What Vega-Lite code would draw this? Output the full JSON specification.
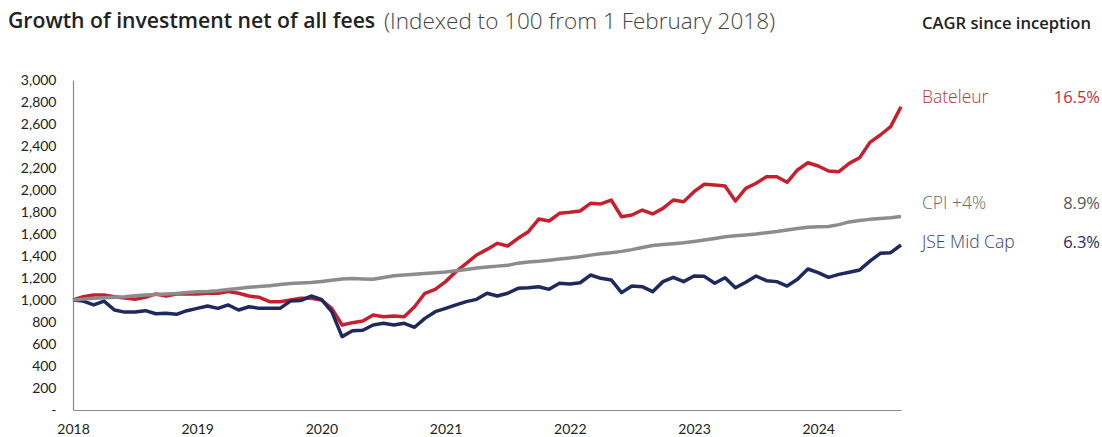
{
  "$schema": "https://vega.github.io/schema/vega-lite/v6.json",
  "width": 828,
  "height": 330,
  "autosize": "none",
  "padding": {"left": 73, "top": 80, "right": 201, "bottom": 27},
  "background": "white",
  "config": {"view": {"stroke": null}, "axisY": {"labelOverlap": false}},
  "datasets": {"series": [
    {"m":0,"bateleur":1000,"jse":1000,"cpi":1000},
    {"m":1,"bateleur":1030,"jse":990,"cpi":1008},
    {"m":2,"bateleur":1045,"jse":955,"cpi":1015},
    {"m":3,"bateleur":1045,"jse":990,"cpi":1020},
    {"m":4,"bateleur":1030,"jse":909,"cpi":1025},
    {"m":5,"bateleur":1018,"jse":890,"cpi":1030},
    {"m":6,"bateleur":1006,"jse":890,"cpi":1038},
    {"m":7,"bateleur":1024,"jse":903,"cpi":1045},
    {"m":8,"bateleur":1055,"jse":875,"cpi":1050},
    {"m":9,"bateleur":1036,"jse":880,"cpi":1055},
    {"m":10,"bateleur":1055,"jse":870,"cpi":1060},
    {"m":11,"bateleur":1055,"jse":903,"cpi":1068},
    {"m":12,"bateleur":1055,"jse":924,"cpi":1075},
    {"m":13,"bateleur":1061,"jse":945,"cpi":1078},
    {"m":14,"bateleur":1061,"jse":924,"cpi":1085},
    {"m":15,"bateleur":1076,"jse":955,"cpi":1095},
    {"m":16,"bateleur":1061,"jse":909,"cpi":1105},
    {"m":17,"bateleur":1036,"jse":939,"cpi":1115},
    {"m":18,"bateleur":1024,"jse":924,"cpi":1122},
    {"m":19,"bateleur":985,"jse":924,"cpi":1130},
    {"m":20,"bateleur":985,"jse":924,"cpi":1140},
    {"m":21,"bateleur":1000,"jse":990,"cpi":1150},
    {"m":22,"bateleur":1015,"jse":995,"cpi":1155},
    {"m":23,"bateleur":1015,"jse":1036,"cpi":1160},
    {"m":24,"bateleur":1000,"jse":1006,"cpi":1168},
    {"m":25,"bateleur":924,"jse":894,"cpi":1180},
    {"m":26,"bateleur":773,"jse":667,"cpi":1190},
    {"m":27,"bateleur":794,"jse":721,"cpi":1195},
    {"m":28,"bateleur":809,"jse":725,"cpi":1192},
    {"m":29,"bateleur":864,"jse":773,"cpi":1188},
    {"m":30,"bateleur":848,"jse":788,"cpi":1205},
    {"m":31,"bateleur":855,"jse":773,"cpi":1220},
    {"m":32,"bateleur":848,"jse":788,"cpi":1228},
    {"m":33,"bateleur":939,"jse":752,"cpi":1235},
    {"m":34,"bateleur":1061,"jse":833,"cpi":1242},
    {"m":35,"bateleur":1097,"jse":894,"cpi":1248},
    {"m":36,"bateleur":1167,"jse":924,"cpi":1255},
    {"m":37,"bateleur":1258,"jse":955,"cpi":1265},
    {"m":38,"bateleur":1333,"jse":985,"cpi":1278},
    {"m":39,"bateleur":1409,"jse":1006,"cpi":1290},
    {"m":40,"bateleur":1460,"jse":1061,"cpi":1300},
    {"m":41,"bateleur":1515,"jse":1036,"cpi":1308},
    {"m":42,"bateleur":1491,"jse":1061,"cpi":1315},
    {"m":43,"bateleur":1561,"jse":1106,"cpi":1335},
    {"m":44,"bateleur":1621,"jse":1112,"cpi":1345},
    {"m":45,"bateleur":1736,"jse":1121,"cpi":1352},
    {"m":46,"bateleur":1718,"jse":1097,"cpi":1362},
    {"m":47,"bateleur":1788,"jse":1152,"cpi":1372},
    {"m":48,"bateleur":1797,"jse":1145,"cpi":1382},
    {"m":49,"bateleur":1809,"jse":1157,"cpi":1394},
    {"m":50,"bateleur":1879,"jse":1227,"cpi":1408},
    {"m":51,"bateleur":1873,"jse":1197,"cpi":1420},
    {"m":52,"bateleur":1909,"jse":1182,"cpi":1430},
    {"m":53,"bateleur":1757,"jse":1067,"cpi":1442},
    {"m":54,"bateleur":1773,"jse":1127,"cpi":1458},
    {"m":55,"bateleur":1818,"jse":1121,"cpi":1478},
    {"m":56,"bateleur":1782,"jse":1076,"cpi":1495},
    {"m":57,"bateleur":1833,"jse":1167,"cpi":1505},
    {"m":58,"bateleur":1909,"jse":1206,"cpi":1512},
    {"m":59,"bateleur":1894,"jse":1167,"cpi":1520},
    {"m":60,"bateleur":1985,"jse":1218,"cpi":1532},
    {"m":61,"bateleur":2052,"jse":1215,"cpi":1545},
    {"m":62,"bateleur":2045,"jse":1152,"cpi":1560},
    {"m":63,"bateleur":2036,"jse":1203,"cpi":1575},
    {"m":64,"bateleur":1900,"jse":1112,"cpi":1585},
    {"m":65,"bateleur":2015,"jse":1161,"cpi":1592},
    {"m":66,"bateleur":2061,"jse":1218,"cpi":1600},
    {"m":67,"bateleur":2121,"jse":1176,"cpi":1612},
    {"m":68,"bateleur":2121,"jse":1167,"cpi":1622},
    {"m":69,"bateleur":2070,"jse":1127,"cpi":1636},
    {"m":70,"bateleur":2182,"jse":1188,"cpi":1650},
    {"m":71,"bateleur":2248,"jse":1282,"cpi":1662},
    {"m":72,"bateleur":2218,"jse":1248,"cpi":1665},
    {"m":73,"bateleur":2173,"jse":1206,"cpi":1668},
    {"m":74,"bateleur":2167,"jse":1233,"cpi":1685},
    {"m":75,"bateleur":2242,"jse":1252,"cpi":1710},
    {"m":76,"bateleur":2294,"jse":1273,"cpi":1722},
    {"m":77,"bateleur":2433,"jse":1354,"cpi":1733},
    {"m":78,"bateleur":2500,"jse":1424,"cpi":1740},
    {"m":79,"bateleur":2576,"jse":1430,"cpi":1748},
    {"m":80,"bateleur":2757,"jse":1500,"cpi":1760}
  ]},
  "layer": [
    {
      "data": {"name": "series"},
      "encoding": {
        "x": {
          "field": "m", "type": "quantitative",
          "scale": {"domain": [0, 80], "nice": false, "zero": false},
          "axis": {
            "title": null, "values": [0, 12, 24, 36, 48, 60, 72],
            "labelExpr": "toString(2018 + datum.value / 12)",
            "ticks": false, "grid": false, "domainColor": "#8a8a8a", "domainWidth": 1.2,
            "labelFont": "Lato", "labelFontSize": 14, "labelColor": "#222222", "labelPadding": 12,
            "labelFlush": false, "labelOverlap": false
          }
        }
      },
      "layer": [
        {
          "mark": {"type": "line", "color": "#c6202e", "strokeWidth": 3.5, "strokeJoin": "round"},
          "encoding": {"y": {"field": "bateleur", "type": "quantitative",
            "scale": {"domain": [0, 3000], "nice": false},
            "axis": {"title": null, "values": [0,200,400,600,800,1000,1200,1400,1600,1800,2000,2200,2400,2600,2800,3000],
              "labelExpr": "datum.value == 0 ? '-' : format(datum.value, ',')",
              "ticks": false, "grid": false, "domainColor": "#8a8a8a", "domainWidth": 1.2,
              "labelFont": "Lato", "labelFontSize": 14, "labelColor": "#222222", "labelPadding": 17,
              "labelOverlap": false, "labelFlush": false, "labelBound": false}}}
        },
        {
          "mark": {"type": "line", "color": "#1e2a5e", "strokeWidth": 3.5, "strokeJoin": "round"},
          "encoding": {"y": {"field": "jse", "type": "quantitative",
            "axis": {"title": null, "values": [0,200,400,600,800,1000,1200,1400,1600,1800,2000,2200,2400,2600,2800,3000],
              "labelExpr": "datum.value == 0 ? '-' : format(datum.value, ',')",
              "ticks": false, "grid": false, "domainColor": "#8a8a8a", "domainWidth": 1.2,
              "labelFont": "Lato", "labelFontSize": 14, "labelColor": "#222222", "labelPadding": 17,
              "labelOverlap": false, "labelFlush": false, "labelBound": false}}}
        },
        {
          "mark": {"type": "line", "color": "#8c8c8c", "strokeWidth": 3.5, "strokeJoin": "round"},
          "encoding": {"y": {"field": "cpi", "type": "quantitative",
            "axis": {"title": null, "values": [0,200,400,600,800,1000,1200,1400,1600,1800,2000,2200,2400,2600,2800,3000],
              "labelExpr": "datum.value == 0 ? '-' : format(datum.value, ',')",
              "ticks": false, "grid": false, "domainColor": "#8a8a8a", "domainWidth": 1.2,
              "labelFont": "Lato", "labelFontSize": 14, "labelColor": "#222222", "labelPadding": 17,
              "labelOverlap": false, "labelFlush": false, "labelBound": false}}}
        }
      ]
    },
    {
      "data": {"values": [{"t": "Growth of investment net of all fees"}]},
      "mark": {"type": "text", "align": "left", "baseline": "middle", "font": "Open Sans", "fontSize": 21.2, "fontWeight": 600, "color": "#222222"},
      "encoding": {"text": {"field": "t"}, "x": {"value": -65}, "y": {"value": -58}}
    },
    {
      "data": {"values": [{"t": "(Indexed to 100 from 1 February 2018)"}]},
      "mark": {"type": "text", "align": "left", "baseline": "middle", "font": "Open Sans", "fontSize": 22.5, "fontWeight": 300, "color": "#444444"},
      "encoding": {"text": {"field": "t"}, "x": {"value": 311}, "y": {"value": -58}}
    },
    {
      "data": {"values": [{"t": "CAGR since inception"}]},
      "mark": {"type": "text", "align": "left", "baseline": "middle", "font": "Open Sans", "fontSize": 16.6, "fontWeight": 600, "color": "#222222"},
      "encoding": {"text": {"field": "t"}, "x": {"value": 849}, "y": {"value": -56}}
    },
    {
      "data": {"values": [{"name": "Bateleur", "cagr": "16.5%"}]},
      "layer": [
        {"mark": {"type": "text", "align": "left", "baseline": "middle", "font": "Open Sans", "fontSize": 17.5, "fontWeight": 300, "color": "#b8323a"},
         "encoding": {"text": {"field": "name"}, "x": {"value": 849}, "y": {"value": 18}}},
        {"mark": {"type": "text", "align": "right", "baseline": "middle", "font": "Open Sans", "fontSize": 16.5, "fontWeight": 400, "color": "#b8323a"},
         "encoding": {"text": {"field": "cagr"}, "x": {"value": 1027}, "y": {"value": 18}}}
      ]
    },
    {
      "data": {"values": [{"name": "CPI +4%", "cagr": "8.9%"}]},
      "layer": [
        {"mark": {"type": "text", "align": "left", "baseline": "middle", "font": "Open Sans", "fontSize": 17.5, "fontWeight": 300, "color": "#6a6a6a"},
         "encoding": {"text": {"field": "name"}, "x": {"value": 849}, "y": {"value": 124}}},
        {"mark": {"type": "text", "align": "right", "baseline": "middle", "font": "Open Sans", "fontSize": 16.5, "fontWeight": 400, "color": "#555555"},
         "encoding": {"text": {"field": "cagr"}, "x": {"value": 1027}, "y": {"value": 124}}}
      ]
    },
    {
      "data": {"values": [{"name": "JSE Mid Cap", "cagr": "6.3%"}]},
      "layer": [
        {"mark": {"type": "text", "align": "left", "baseline": "middle", "font": "Open Sans", "fontSize": 17.5, "fontWeight": 300, "color": "#3b3a7a"},
         "encoding": {"text": {"field": "name"}, "x": {"value": 849}, "y": {"value": 163}}},
        {"mark": {"type": "text", "align": "right", "baseline": "middle", "font": "Open Sans", "fontSize": 16.5, "fontWeight": 400, "color": "#2a2a5e"},
         "encoding": {"text": {"field": "cagr"}, "x": {"value": 1027}, "y": {"value": 163}}}
      ]
    }
  ]
}
